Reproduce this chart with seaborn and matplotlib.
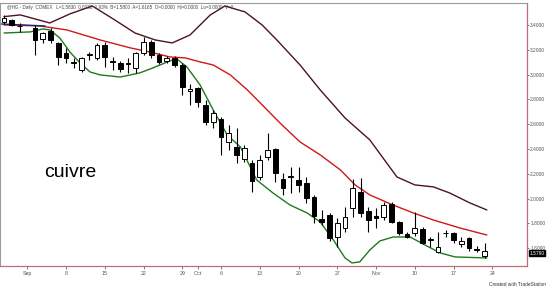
import numpy as np
import pandas as pd
import matplotlib
matplotlib.use("Agg")
import matplotlib.pyplot as plt
import seaborn as sns

# ---- data ----
idx = list(range(63))
opens = [3.424, 3.44, 3.39, np.nan, 3.378, 3.287, 3.352, 3.255, 3.174, 3.094,
         3.037, 3.16, 3.134, 3.239, 3.11, 3.094, 3.090, 3.053, 3.174, 3.263,
         3.158, 3.110, 3.134, 3.077, 2.87, 2.892, 2.755, 2.618, 2.642, 2.456,
         2.416, 2.32, 2.287, 2.174, 2.335, 2.4, 2.158, 2.17, 2.15, 2.126,
         2.013, 1.835, 1.868, 1.69, 1.763, 1.924, 2.053, 1.9, 1.86, 1.852,
         1.956, 1.81, 1.715, 1.723, 1.755, 1.665, 1.57, 1.72, 1.72, 1.635,
         1.68, 1.595, 1.54]
highs = [3.48, 3.448, 3.416, np.nan, 3.40, 3.346, 3.376, 3.263, 3.214, 3.134,
         3.142, 3.182, 3.255, 3.263, 3.142, 3.11, 3.134, 3.182, 3.303, 3.28,
         3.174, 3.15, 3.15, 3.094, 2.92, 2.90, 2.795, 2.715, 2.66, 2.594,
         2.57, 2.432, 2.31, 2.352, 2.529, 2.41, 2.206, 2.255, 2.255, 2.174,
         2.029, 1.91, 1.88, 1.843, 1.932, 2.16, 2.166, 1.932, 1.925, 1.97,
         1.97, 1.82, 1.73, 1.89, 1.77, 1.69, 1.73, 1.745, 1.73, 1.69,
         1.69, 1.62, 1.64]
lows = [3.41, 3.39, 3.344, np.nan, 3.158, 3.255, 3.255, 3.077, 3.094, 3.053,
        3.021, 3.118, 3.118, 3.061, 3.037, 3.02, 3.013, 3.013, 3.16, 3.134,
        3.085, 3.094, 3.06, 2.836, 2.755, 2.74, 2.594, 2.57, 2.352, 2.392,
        2.287, 2.295, 2.053, 2.15, 2.31, 2.134, 2.029, 2.045, 2.053, 1.964,
        1.803, 1.79, 1.66, 1.61, 1.73, 1.852, 1.85, 1.73, 1.76, 1.83,
        1.80, 1.71, 1.68, 1.70, 1.63, 1.61, 1.56, 1.69, 1.64, 1.61,
        1.58, 1.565, 1.52]
closes = [3.456, 3.40, 3.395, np.nan, 3.279, 3.335, 3.279, 3.142, 3.134, 3.100,
          3.134, 3.165, 3.239, 3.142, 3.10, 3.045, 3.085, 3.174, 3.263, 3.158,
          3.102, 3.134, 3.077, 2.900, 2.88, 2.779, 2.618, 2.69, 2.497, 2.529,
          2.352, 2.408, 2.142, 2.31, 2.392, 2.206, 2.085, 2.18, 2.11, 2.005,
          1.86, 1.81, 1.682, 1.803, 1.852, 2.085, 1.884, 1.827, 1.84, 1.948,
          1.81, 1.723, 1.69, 1.763, 1.642, 1.67, 1.61, 1.725, 1.665, 1.66,
          1.60, 1.585, 1.579]

upper_i = [0, 2.1, 5.9, 8.5, 11.4, 14.3, 16.9, 19.5, 21.7, 24, 26.6, 28.5, 31.1,
           33.3, 35.2, 38.2, 40.8, 44, 47.2, 50.7, 53, 55.4, 57.5, 60.1, 62.3]
upper_v = [3.467, 3.481, 3.416, 3.489, 3.553, 3.44, 3.335, 3.279, 3.255, 3.319,
           3.48, 3.553, 3.505, 3.40, 3.279, 3.077, 2.876, 2.65, 2.473, 2.174,
           2.11, 2.094, 2.045, 1.965, 1.908]
mid_i = [0, 4.6, 8.1, 12.4, 16.3, 18.8, 21.4, 23.4, 25.3, 27, 29.2, 31.4, 33.7,
         35.6, 38.2, 40.8, 43.4, 45.3, 47.2, 50.2, 52.8, 55.4, 58.8, 62.3]
mid_v = [3.40, 3.392, 3.36, 3.279, 3.215, 3.182, 3.142, 3.134, 3.102, 3.077,
         2.997, 2.876, 2.731, 2.61, 2.456, 2.352, 2.231, 2.11, 2.029, 1.948,
         1.884, 1.827, 1.763, 1.706]
lower_i = [0, 3.4, 5, 5.9, 7.2, 8.5, 9.8, 11.1, 12.4, 15, 17.5, 19.2, 21.4, 22.3,
           23.6, 25.3, 27, 28.8, 30.5, 32.6, 34.7, 36.9, 39.1, 40.8, 42.5, 44,
           44.9, 45.9, 47.2, 48.5, 50.2, 52.4, 54.3, 56.3, 58.2, 62.3]
lower_v = [3.335, 3.344, 3.368, 3.36, 3.295, 3.182, 3.094, 3.021, 2.997, 2.98,
           3.013, 3.053, 3.11, 3.126, 3.061, 2.916, 2.714, 2.513, 2.416, 2.15,
           2.045, 1.948, 1.884, 1.811, 1.666, 1.521, 1.481, 1.489, 1.585, 1.658,
           1.69, 1.69, 1.626, 1.561, 1.529, 1.521]
blue_i = [-0.5, 5.3]
blue_v = [3.408, 3.392]

tick_pos = [3, 8, 13, 18, 23, 25, 28, 33, 38, 43, 48, 53, 58, 63]
tick_lab = ['Sep', '8', '15', '22', '29', 'Oct', '6', '13', '20', '27', 'Nov', '10', '17', '24']
yticks = [1.6, 1.8, 2.0, 2.2, 2.4, 2.6, 2.8, 3.0, 3.2, 3.4]
last_price = 1.579

# ---- figure ----
sns.set_style("white")
plt.rcParams['font.family'] = ['Liberation Sans', 'DejaVu Sans']
fig = plt.figure(figsize=(5.47, 2.88), dpi=100)
ax = fig.add_axes([0, 22 / 288, 527 / 547, 263 / 288])

df = pd.DataFrame({'i': idx, 'o': opens, 'h': highs, 'l': lows, 'c': closes}).dropna()
up = df['c'] >= df['o']
ax.vlines(df['i'], df['l'], df['h'], color='black', lw=0.8, zorder=3)
bot = np.minimum(df['o'], df['c'])
hgt = np.maximum(np.abs(df['c'] - df['o']), 0.004)
ax.bar(df['i'], hgt, bottom=bot, width=0.62,
       color=np.where(up, 'white', 'black'), edgecolor='black', lw=0.7, zorder=4)

sns.lineplot(x=upper_i, y=upper_v, ax=ax, color='#4a1422', lw=1.0, zorder=2)
sns.lineplot(x=mid_i, y=mid_v, ax=ax, color='#d01818', lw=1.0, zorder=2)
sns.lineplot(x=lower_i, y=lower_v, ax=ax, color='#1e7a1e', lw=1.0, zorder=2)
sns.lineplot(x=blue_i, y=blue_v, ax=ax, color='#1c2a7a', lw=1.0, zorder=2)

ax.set_xlim(-0.516, 67.48)
ax.set_ylim(1.456, 3.577)
ax.yaxis.tick_right()
ax.set_yticks(yticks)
ax.set_yticklabels([f"{v:.4f}" for v in yticks], fontsize=3.5, color='#555555')
ax.set_xticks(tick_pos)
ax.set_xticklabels(tick_lab, fontsize=3.8, color='#555555')
ax.tick_params(axis='x', length=2, width=0.5, color='#444444', pad=1.5)
ax.tick_params(axis='y', length=1.5, width=0.5, color='#444444', pad=0.8)
ax.tick_params(axis='y', right=True, left=False)
ax.tick_params(axis='x', bottom=True)
for s in ['right', 'bottom']:
    ax.spines[s].set_color('#c06a7a')
    ax.spines[s].set_linewidth(0.9)
for s in ['left', 'top']:
    ax.spines[s].set_color('#9a9a9a')
    ax.spines[s].set_linewidth(0.8)
ax.set_xlabel('')
ax.set_ylabel('')

ax.text(1.005, last_price, f"{last_price:.4f}", transform=ax.get_yaxis_transform(),
        fontsize=3.5, color='white', va='top', ha='left',
        bbox=dict(boxstyle='square,pad=0.12', fc='black', ec='black'))

ax.text(5.2, 2.214, 'cuivre', fontsize=14, color='black', ha='left', va='center')

fig.text(0.012, 0.982, '@HG - Daily  COMEX   L=1.5830  0.0330  1.93%  B=1.5800  A=1.6165  O=0.0000  Hi=0.0000  Lo=0.0000  V=0',
         fontsize=3.3, color='#444444', ha='left', va='top')
fig.text(0.998, 0.004, 'Created with TradeStation', fontsize=3.5, color='#333333', ha='right', va='bottom')

fig.savefig('out.png', dpi=100)
